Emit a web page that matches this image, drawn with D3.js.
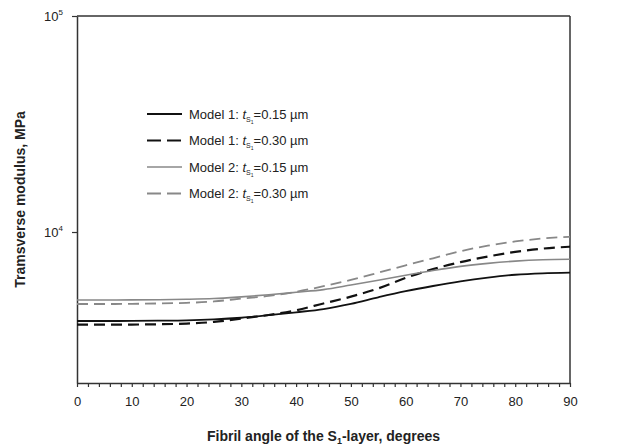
<!DOCTYPE html>
<html>
<head>
<meta charset="utf-8">
<script src="https://cdn.jsdelivr.net/npm/d3@7"></script>
<style>
  body { margin: 0; background: #fff; }
  svg { font-family: "Liberation Sans", Arial, Helvetica, sans-serif; }
</style>
</head>
<body>
<script>
// fibril angle (deg) and transverse modulus (MPa)
var angles = [0, 5, 10, 15, 20, 25, 30, 35, 40, 45, 50, 55, 60, 65, 70, 75, 80, 85, 90];
var m1_015 = [3873, 3873, 3875, 3885, 3900, 3940, 4010, 4120, 4250, 4400, 4650, 4985, 5320, 5625, 5910, 6150, 6340, 6440, 6480];
var m1_030 = [3723, 3723, 3728, 3740, 3770, 3835, 3975, 4130, 4340, 4670, 5020, 5480, 6130, 6730, 7250, 7700, 8090, 8380, 8550];
var m2_015 = [4845, 4845, 4850, 4860, 4880, 4920, 5010, 5120, 5260, 5410, 5680, 5975, 6305, 6630, 6930, 7160, 7335, 7440, 7475];
var m2_030 = [4642, 4642, 4650, 4670, 4700, 4770, 4920, 5060, 5290, 5610, 6000, 6480, 7010, 7560, 8150, 8640, 9040, 9330, 9510];

var seriesNames = ["Model 1", "Model 1", "Model 2", "Model 2"];
var seriesT = ["0.15", "0.30", "0.15", "0.30"];
var xTicks = [0, 10, 20, 30, 40, 50, 60, 70, 80, 90];
var yTicks = [1e4, 1e5];

var series = [
  {name: seriesNames[0], t: seriesT[0], vals: m1_015, color: "#111", w: 1.8, dash: null},
  {name: seriesNames[1], t: seriesT[1], vals: m1_030, color: "#111", w: 2.2, dash: "11,6"},
  {name: seriesNames[2], t: seriesT[2], vals: m2_015, color: "#888", w: 1.6, dash: null},
  {name: seriesNames[3], t: seriesT[3], vals: m2_030, color: "#888", w: 1.8, dash: "11,6"}
];

var margin = {top: 16, right: 48, bottom: 63, left: 77},
    width = 618 - margin.left - margin.right,
    height = 446 - margin.top - margin.bottom;

var svg = d3.select("body").append("svg")
    .attr("width", 618)
    .attr("height", 446)
  .append("g")
    .attr("transform", "translate(" + margin.left + "," + margin.top + ")");

var x = d3.scaleLinear().domain([0, 90]).range([0, width]);
var y = d3.scaleLog().domain([2000, 100000]).range([height, 0]);

// frame: top and right
svg.append("line").attr("x1", 0).attr("x2", width).attr("y1", 0).attr("y2", 0)
  .attr("stroke", "#333").attr("stroke-width", 1.5);
svg.append("line").attr("x1", width).attr("x2", width).attr("y1", 0).attr("y2", height)
  .attr("stroke", "#333").attr("stroke-width", 1.5);

// x axis
var xAxis = svg.append("g")
  .attr("transform", "translate(0," + height + ")")
  .call(d3.axisBottom(x).tickValues(d3.range(0, 91, 2)).tickSize(4).tickSizeOuter(0)
    .tickFormat(function(d) { return xTicks.indexOf(d) >= 0 ? d : ""; }));
xAxis.select(".domain").attr("stroke", "#333").attr("stroke-width", 1.5);
xAxis.selectAll(".tick line").attr("stroke", "#333").attr("stroke-width", 1.2);
xAxis.selectAll(".tick text").attr("font-size", 13).attr("fill", "#222").attr("dy", "1.25em");

// y axis
var yAxis = svg.append("g")
  .call(d3.axisLeft(y).tickValues(yTicks).tickSize(5).tickSizeOuter(0).tickFormat(""));
yAxis.select(".domain").attr("stroke", "#333").attr("stroke-width", 1.5);
yAxis.selectAll(".tick line").attr("stroke", "#333").attr("stroke-width", 1.2);

var yl = svg.selectAll(".ylab").data(yTicks).enter().append("text")
  .attr("class", "ylab")
  .attr("x", -14)
  .attr("y", function(d) { return y(d) + 5; })
  .attr("text-anchor", "end")
  .attr("font-size", 13)
  .attr("fill", "#222");
yl.append("tspan").text("10");
yl.append("tspan").attr("font-size", 8).attr("dy", -6).text(function(d) { return Math.round(Math.log10(d)); });

// curves
var line = d3.line()
  .x(function(d) { return x(d[0]); })
  .y(function(d) { return y(d[1]); })
  .curve(d3.curveMonotoneX);

series.forEach(function(s) {
  svg.append("path")
    .datum(angles.map(function(a, i) { return [a, s.vals[i]]; }))
    .attr("fill", "none")
    .attr("stroke", s.color)
    .attr("stroke-width", s.w)
    .attr("stroke-dasharray", s.dash)
    .attr("d", line);
});

// legend
var leg = svg.append("g").attr("transform", "translate(70,98)");
series.forEach(function(s, i) {
  var g = leg.append("g").attr("transform", "translate(0," + i * 26.5 + ")");
  g.append("line").attr("x1", 0).attr("x2", 35).attr("y1", 0).attr("y2", 0)
    .attr("stroke", s.color).attr("stroke-width", s.w)
    .attr("stroke-dasharray", s.dash ? "14,6" : null);
  var t = g.append("text").attr("x", 42).attr("y", 4.5).attr("font-size", 13).attr("fill", "#222");
  t.append("tspan").text(s.name + ": ");
  t.append("tspan").attr("font-style", "italic").text("t");
  t.append("tspan").attr("font-size", 7).attr("dy", 3).text("S");
  t.append("tspan").attr("font-size", 5).attr("dy", 2).text("1");
  t.append("tspan").attr("dy", -5).text("=" + s.t + " \u00b5m");
});

// axis titles
var xt = svg.append("text")
  .attr("x", width / 2)
  .attr("y", height + 58)
  .attr("text-anchor", "middle")
  .attr("font-size", 14)
  .attr("font-weight", "bold")
  .attr("fill", "#222");
xt.append("tspan").text("Fibril angle of the S");
xt.append("tspan").attr("font-size", 9).attr("dy", 3).text("1");
xt.append("tspan").attr("dy", -3).text("-layer, degrees");

svg.append("text")
  .attr("transform", "translate(-52," + height / 2 + ") rotate(-90)")
  .attr("text-anchor", "middle")
  .attr("font-size", 14)
  .attr("font-weight", "bold")
  .attr("fill", "#222")
  .text("Tramsverse modulus, MPa");
</script>
</body>
</html>
